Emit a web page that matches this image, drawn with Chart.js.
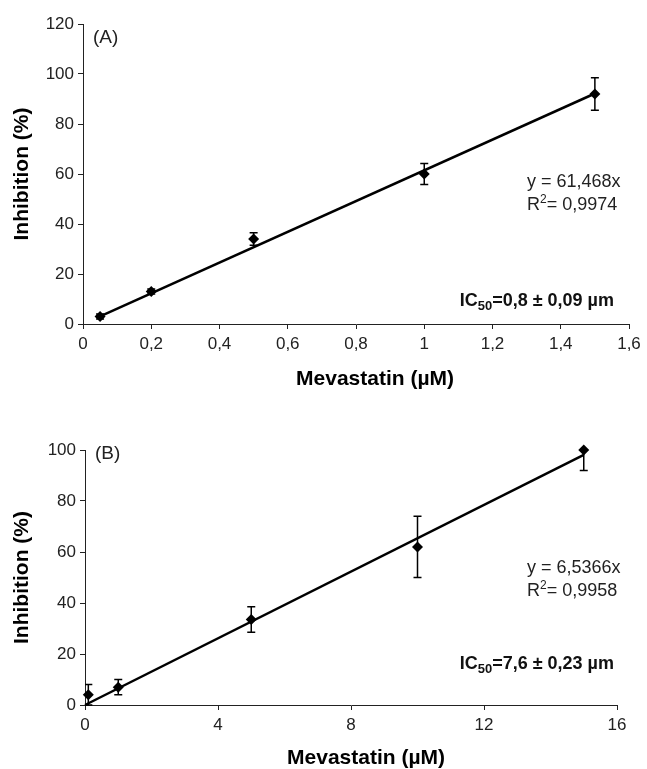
<!DOCTYPE html>
<html>
<head>
<meta charset="utf-8">
<script src="https://cdn.jsdelivr.net/npm/chart.js@4.4.1/dist/chart.umd.min.js"></script>
<style>
  body { margin: 0; background: #fff; }
  #wrapA { position: absolute; left: 0; top: 0; width: 647px; height: 392px; }
  #wrapB { position: absolute; left: 0; top: 392px; width: 647px; height: 377px; }
</style>
</head>
<body>
<div id="wrapA"><canvas id="chartA"></canvas></div>
<div id="wrapB"><canvas id="chartB"></canvas></div>
<script>
// (A) Mevastatin 0 - 1.6 uM
const concA = [0.05, 0.2, 0.5, 1, 1.5]
const inhA = [3, 13, 34, 60, 92]
const errA = [1, 1, 2.5, 4.2, 6.5]
const slopeA = 61.468
const trendXA = [0.05, 1.5]
const xTicksA = [0, 0.2, 0.4, 0.6, 0.8, 1, 1.2, 1.4, 1.6]
const yTicksA = [0, 20, 40, 60, 80, 100, 120]

// (B) Mevastatin 0 - 16 uM
const concB = [0.1, 1, 5, 10, 15]
const inhB = [4, 7, 33.5, 62, 100]
const errB = [4, 3, 5, 12, 8]
const slopeB = 6.5366
const trendXB = [0, 15]
const xTicksB = [0, 4, 8, 12, 16]
const yTicksB = [0, 20, 40, 60, 80, 100]

const FAM = "'Liberation Sans', Arial, Helvetica, sans-serif"

const comma = v => (Math.round(v * 10) / 10).toString().replace('.', ',')

// error bars drawn with the chart's own scales
const errorBars = {
    id: 'errorBars',
    afterDatasetsDraw(chart, args, opts) {
        const { ctx, scales: { x, y } } = chart
        const ca = chart.chartArea
        ctx.save()
        ctx.beginPath()
        ctx.rect(ca.left, ca.top, ca.right - ca.left, ca.bottom - ca.top + 1)
        ctx.clip()
        ctx.strokeStyle = '#000'
        ctx.lineWidth = 1.5
        opts.xs.forEach((xv, i) => {
            const px = x.getPixelForValue(xv)
            const top = y.getPixelForValue(opts.ys[i] + opts.err[i])
            const bot = y.getPixelForValue(opts.ys[i] - opts.err[i])
            ctx.beginPath()
            ctx.moveTo(px, top); ctx.lineTo(px, bot)
            ctx.moveTo(px - 4, top); ctx.lineTo(px + 4, top)
            ctx.moveTo(px - 4, bot); ctx.lineTo(px + 4, bot)
            ctx.stroke()
        })
        ctx.restore()
    }
}

const drawRich = (ctx, parts, x, y, align) => {
    let w = 0
    parts.forEach(p => { ctx.font = p.font; w += ctx.measureText(p.t).width })
    let cx = align === 'right' ? x - w : (align === 'center' ? x - w / 2 : x)
    parts.forEach(p => {
        ctx.font = p.font
        ctx.fillText(p.t, cx, y + (p.dy || 0))
        cx += ctx.measureText(p.t).width
    })
}

// panel letter, equation, IC50 and x title
const notes = {
    id: 'notes',
    afterDraw(chart, args, o) {
        const ctx = chart.ctx
        const reg = '18px ' + FAM
        const small = '12px ' + FAM
        const bold = 'bold 18px ' + FAM
        const boldSmall = 'bold 13px ' + FAM
        ctx.save()
        ctx.fillStyle = '#222'
        ctx.textBaseline = 'middle'
        drawRich(ctx, [{ t: o.letter, font: '19px ' + FAM }], o.letterPos[0], o.letterPos[1], 'left')
        drawRich(ctx, [{ t: o.eq, font: reg }], o.eqPos[0], o.eqPos[1], 'left')
        drawRich(ctx, [
            { t: 'R', font: reg },
            { t: '2', font: small, dy: -5 },
            { t: '= ' + o.r2, font: reg }
        ], o.eqPos[0], o.eqPos[1] + 23, 'left')
        ctx.fillStyle = '#111'
        drawRich(ctx, [
            { t: 'IC', font: bold },
            { t: '50', font: boldSmall, dy: 5 },
            { t: '=' + o.ic50, font: bold }
        ], o.icPos[0], o.icPos[1], 'right')
        ctx.fillStyle = '#000'
        drawRich(ctx, [{ t: 'Mevastatin (µM)', font: 'bold 21px ' + FAM }], o.titlePos[0], o.titlePos[1], 'center')
        ctx.restore()
    }
}

const makeChart = (id, p) => new Chart(document.getElementById(id), {
    type: 'scatter',
    data: {
        datasets: [
            {
                data: p.xs.map((v, i) => ({ x: v, y: p.ys[i] })),
                pointStyle: 'rectRot',
                pointRadius: 5.5,
                pointBackgroundColor: '#000',
                pointBorderWidth: 0,
                clip: false
            },
            {
                data: p.trendX.map(v => ({ x: v, y: p.slope * v })),
                showLine: true,
                borderColor: '#000',
                borderWidth: 2.5,
                pointRadius: 0,
                clip: false
            }
        ]
    },
    options: {
        animation: false,
        responsive: true,
        maintainAspectRatio: false,
        layout: { padding: { left: 0, top: p.top, right: p.right, bottom: 0 } },
        plugins: {
            legend: { display: false },
            tooltip: { enabled: false },
            errorBars: { xs: p.xs, ys: p.ys, err: p.err },
            notes: p.notes
        },
        scales: {
            x: {
                type: 'linear',
                min: p.xTicks[0],
                max: p.xTicks[p.xTicks.length - 1],
                afterBuildTicks: s => { s.ticks = p.xTicks.map(v => ({ value: v })) },
                afterFit: s => { s.height = p.xHeight },
                border: { color: '#222', width: 1 },
                grid: { drawOnChartArea: false, drawTicks: true, tickLength: 5, color: '#222' },
                ticks: { color: '#222', font: { family: FAM, size: 17 }, padding: 5, maxRotation: 0, callback: v => comma(v) }
            },
            y: {
                min: p.yTicks[0],
                max: p.yTicks[p.yTicks.length - 1],
                afterBuildTicks: s => { s.ticks = p.yTicks.map(v => ({ value: v })) },
                afterFit: s => { s.width = p.yWidth },
                border: { color: '#222', width: 1 },
                grid: { drawOnChartArea: false, drawTicks: true, tickLength: 5, color: '#222' },
                ticks: { color: '#222', font: { family: FAM, size: 17 }, padding: 4 },
                title: {
                    display: true,
                    text: 'Inhibition (%)',
                    color: '#000',
                    font: { family: FAM, size: 21, weight: 'bold' },
                    padding: { top: 10, bottom: 0 }
                }
            }
        }
    },
    plugins: [errorBars, notes]
})

makeChart('chartA', {
    xs: concA, ys: inhA, err: errA, slope: slopeA, trendX: trendXA,
    xTicks: xTicksA, yTicks: yTicksA,
    top: 24, right: 18, xHeight: 68, yWidth: 83,
    notes: {
        letter: '(A)', letterPos: [93, 38],
        eq: 'y = 61,468x', r2: '0,9974', eqPos: [527, 182],
        ic50: '0,8 ± 0,09 µm', icPos: [614, 301],
        titlePos: [375, 379]
    }
})

makeChart('chartB', {
    xs: concB, ys: inhB, err: errB, slope: slopeB, trendX: trendXB,
    xTicks: xTicksB, yTicks: yTicksB,
    top: 58, right: 30, xHeight: 64, yWidth: 85,
    notes: {
        letter: '(B)', letterPos: [95, 62],
        eq: 'y = 6,5366x', r2: '0,9958', eqPos: [527, 176],
        ic50: '7,6 ± 0,23 µm', icPos: [614, 272],
        titlePos: [366, 366]
    }
})
</script>
</body>
</html>
